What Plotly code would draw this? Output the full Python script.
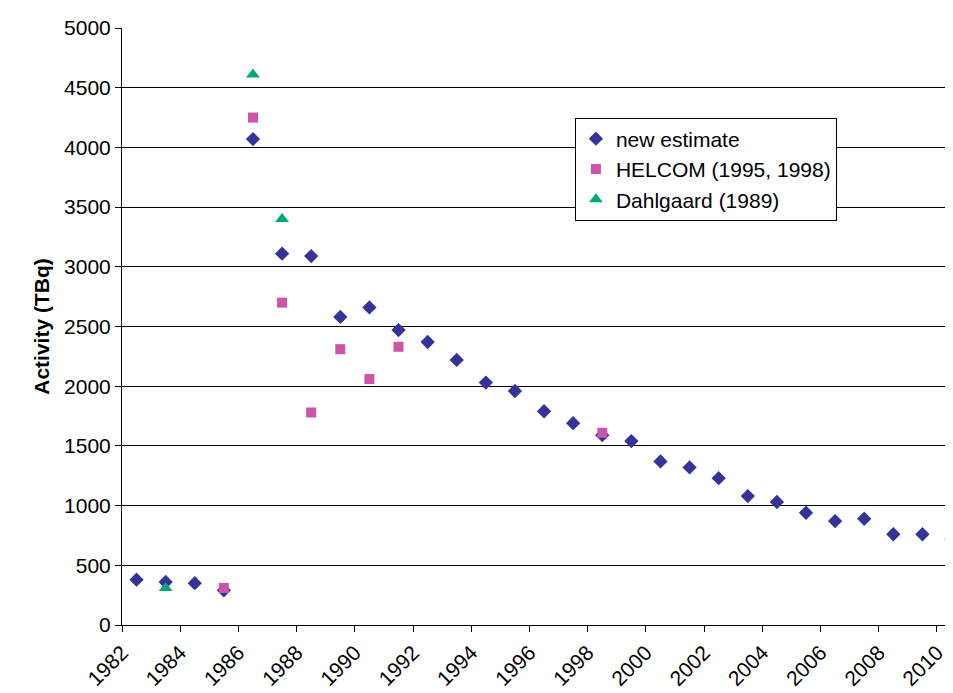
import plotly.graph_objects as go

years = list(range(1982, 2011))
new_estimate = [380, 360, 350, 290, 4070, 3110, 3090, 2580, 2660, 2470, 2370, 2220, 2030, 1960,
                1790, 1690, 1590, 1540, 1370, 1320, 1230, 1080, 1030, 940, 870, 890, 760, 760, 720]
helcom_years = [1985, 1986, 1987, 1988, 1989, 1990, 1991, 1998]
helcom = [310, 4250, 2700, 1780, 2310, 2060, 2330, 1610]
dahl_years = [1983, 1986, 1987]
dahl = [310, 4610, 3400]
tick_years = list(range(1982, 2011, 2))

fig = go.Figure()
fig.add_trace(go.Scatter(x=[y + 0.5 for y in years], y=new_estimate, mode="markers", name="new estimate",
                         marker=dict(symbol="diamond", size=11, color="#333399"), cliponaxis=False))
fig.add_trace(go.Scatter(x=[y + 0.5 for y in helcom_years], y=helcom, mode="markers", name="HELCOM (1995, 1998)",
                         marker=dict(symbol="square", size=10, color="#CC55AA")))
fig.add_trace(go.Scatter(x=[y + 0.5 for y in dahl_years], y=dahl, mode="markers", name="Dahlgaard (1989)",
                         marker=dict(symbol="triangle-up", size=12, color="#00A878")))

fig.update_layout(
    width=945, height=693, paper_bgcolor="white", plot_bgcolor="white",
    margin=dict(l=114, r=0, t=20, b=76),
    font=dict(family="Liberation Sans, Arial", size=21, color="black"),
    showlegend=True,
    legend=dict(x=0.545, y=0.85, xanchor="left", yanchor="top", bordercolor="black", borderwidth=1,
                font=dict(size=21), itemwidth=30, tracegroupgap=6, bgcolor="white"),
)
fig.update_xaxes(range=[1982, 2010.55], tickvals=tick_years, ticktext=[str(t) for t in tick_years],
                 tickangle=-45, tickfont=dict(size=21), showgrid=False, showline=True, linecolor="black",
                 ticks="outside", ticklen=6, tickcolor="black", zeroline=False)
fig.update_yaxes(range=[0, 5000], dtick=500, tickfont=dict(size=21), showgrid=True, gridcolor="black", gridwidth=1,
                 showline=True, linecolor="black", ticks="outside", ticklen=6, tickcolor="black",
                 zeroline=False, title=dict(text="<b>Activity (TBq)</b>", font=dict(size=21), standoff=8))
fig.write_html("out.html")
